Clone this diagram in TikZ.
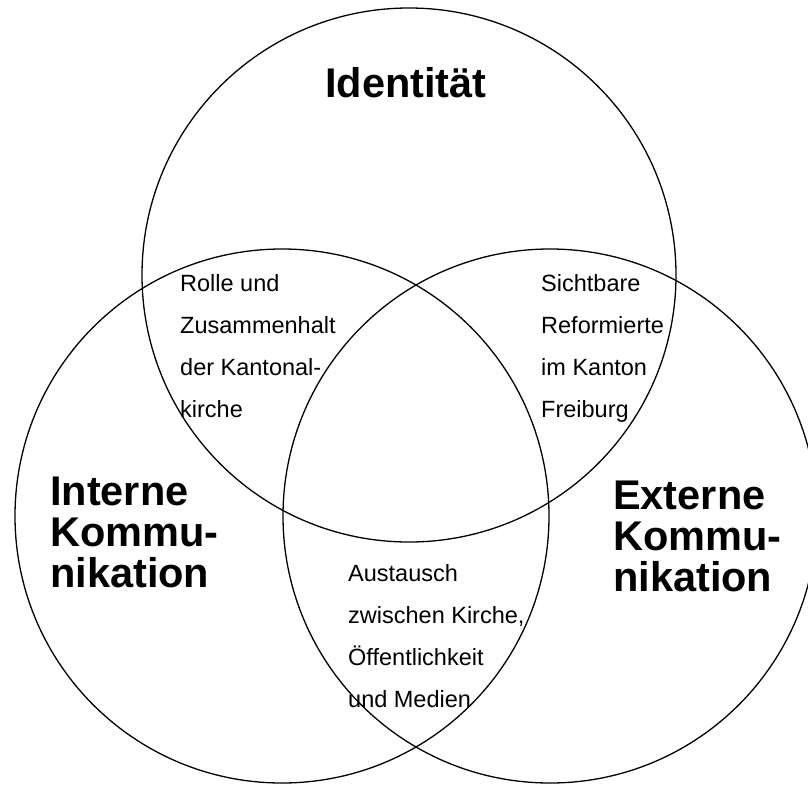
\documentclass[tikz,border=0pt]{standalone}
\usepackage{fontspec}
\setmainfont{Liberation Sans}
\begin{document}
\begin{tikzpicture}[mycirclestyle/.style={draw=black, line width=1.3pt},
        mybigstyle/.style={anchor=base west, align=left, inner sep=0pt, font=\bfseries\fontsize{41.5}{41}\selectfont},
        mysmallstyle/.style={anchor=base west, align=left, inner sep=0pt, font=\fontsize{23.5}{42}\selectfont},
        x=1pt, y=-1pt]
        \useasboundingbox (0,0) rectangle (808,785);
        \draw[mycirclestyle](409,275) circle (267pt);
        \draw[mycirclestyle](282,516) circle (267pt);
        \draw[mycirclestyle](550,516) circle (267pt);
        % base anchors sit on the last line of each block
        \node[mybigstyle] (identitaet) at (325,97) {Identität};
        \node[mybigstyle] (intern) at (50,587) {Interne\\Kommu-\\nikation};
        \node[mybigstyle] (extern) at (613,591) {Externe\\Kommu-\\nikation};
        \node[mysmallstyle] (rolle) at (180,417) {Rolle und\\Zusammenhalt\\der Kantonal-\\kirche};
        \node[mysmallstyle] (sichtbar) at (541,417) {Sichtbare\\Reformierte\\im Kanton\\Freiburg};
        \node[mysmallstyle] (austausch) at (348,707) {Austausch\\zwischen Kirche,\\Öffentlichkeit\\und Medien};
    \end{tikzpicture}
\end{document}
